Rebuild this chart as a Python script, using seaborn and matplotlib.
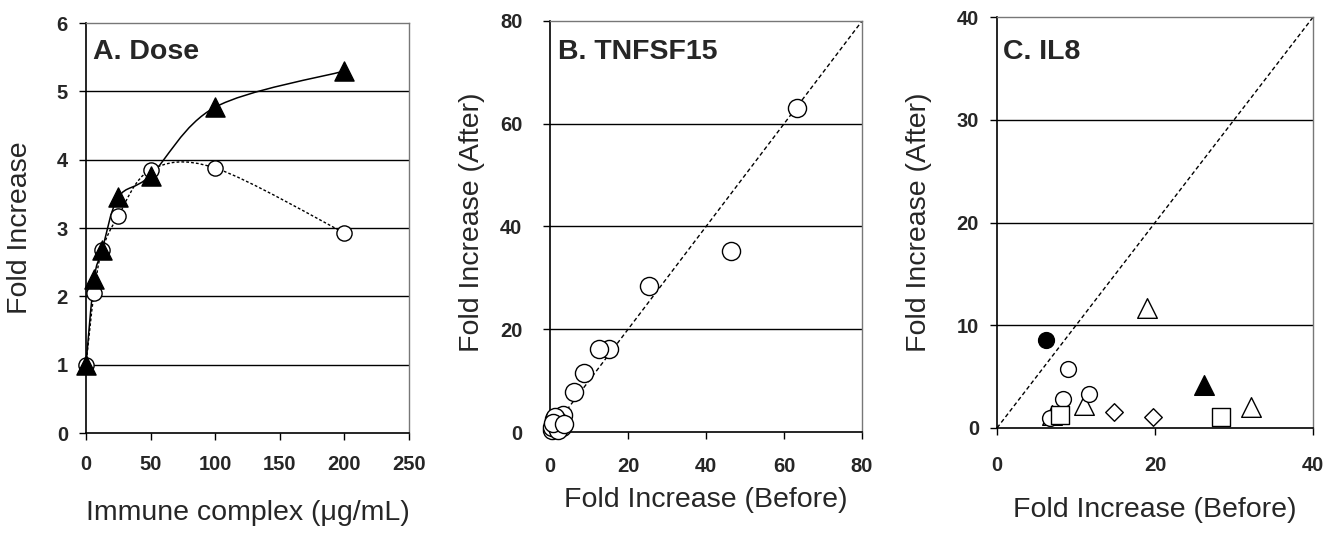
import numpy as np
import pandas as pd
import seaborn as sns
import matplotlib
matplotlib.use('Agg')
import matplotlib.pyplot as plt
from matplotlib.path import Path
from matplotlib.patches import PathPatch

# panel A - dose response
dose = [0, 6.25, 12.5, 25, 50, 100, 200]
dose_circle = [1.0, 2.05, 2.68, 3.18, 3.85, 3.88, 2.93]
dose_triangle = [1.0, 2.25, 2.68, 3.45, 3.77, 4.77, 5.30]

# panel B - TNFSF15 before/after
tnf_before = [63.4, 46.4, 25.4, 15.1, 12.6, 8.8, 6.2, 3.4, 0.9, 1.7, 1.3, 2.6,
              0.4, 2.1, 3.0, 0.5, 1.2, 2.0, 0.7, 3.5]
tnf_after = [63.0, 35.3, 28.4, 16.2, 16.1, 11.4, 7.7, 3.4, 2.6, 1.6, 0.6, 1.3,
             0.3, 2.1, 1.0, 1.0, 2.9, 0.4, 1.8, 1.6]

# panel C - IL8 before/after, marker shape and fill per point
il8_before = [6.2, 9.0, 8.3, 11.6, 6.7, 6.9, 8.0, 11.0, 14.8, 19.8, 19.0, 26.2, 28.4, 32.2]
il8_after = [8.6, 5.7, 2.85, 3.3, 0.97, 1.3, 1.3, 2.2, 1.6, 1.1, 11.65, 4.2, 1.1, 2.0]
il8_shape = ['o', 'o', 'o', 'o', 'o', '^', 's', '^', 'D', 'D', '^', '^', 's', '^']
il8_filled = [True, False, False, False, False, False, False, False, False, False, False, True, False, False]

sns.set_style('white')
plt.rcParams['font.family'] = ['Liberation Sans', 'DejaVu Sans']


def smooth_path(x, y, t=1/6):
    # excel style smoothed line as bezier segments through the data points
    pts = np.column_stack([x, y]).astype(float)
    verts = [pts[0]]
    codes = [Path.MOVETO]
    n = len(pts)
    for i in range(n - 1):
        p0 = pts[i - 1] if i > 0 else pts[i]
        p1 = pts[i]
        p2 = pts[i + 1]
        p3 = pts[i + 2] if i + 2 < n else pts[i + 1]
        verts += [p1 + (p2 - p0) * t, p2 - (p3 - p1) * t, p2]
        codes += [Path.CURVE4] * 3
    return Path(verts, codes)


def style_axes(ax, xlim, ylim, xticks, yticks, xpad, ypad):
    ax.set_xlim(xlim)
    ax.set_ylim(ylim)
    ax.set_xticks(xticks)
    ax.set_yticks(yticks)
    for y in yticks[1:-1]:
        ax.axhline(y, color='black', lw=1, zorder=1)
    for s in ['left', 'bottom']:
        ax.spines[s].set_color('black')
        ax.spines[s].set_linewidth(1.2)
    for s in ['top', 'right']:
        ax.spines[s].set_color('#777777')
        ax.spines[s].set_linewidth(1)
    ax.tick_params(axis='x', direction='out', length=5, width=1, color='black',
                   labelsize=14.5, pad=xpad, bottom=True)
    ax.tick_params(axis='y', direction='out', length=5, width=1, color='black',
                   labelsize=14.5, pad=ypad, left=True)
    for lab in ax.get_xticklabels() + ax.get_yticklabels():
        lab.set_fontweight('bold')


fig = plt.figure(figsize=(13.39, 5.38), dpi=100)
axA = fig.add_axes([0.0642, 0.195, 0.2412, 0.762])
axB = fig.add_axes([0.4108, 0.197, 0.2330, 0.764])
axC = fig.add_axes([0.7446, 0.2045, 0.2360, 0.7635])

# ---- A
axA.add_patch(PathPatch(smooth_path(dose, dose_circle), fill=False, color='black',
                        lw=1, ls=(0, (2, 1.5)), zorder=2))
axA.add_patch(PathPatch(smooth_path(dose, dose_triangle), fill=False, color='black',
                        lw=1.1, zorder=2))
sns.scatterplot(x=dose, y=dose_circle, ax=axA, marker='o', s=120, facecolor='white',
                edgecolor='black', linewidth=1, zorder=3, clip_on=False)
sns.scatterplot(x=dose, y=dose_triangle, ax=axA, marker='^', s=190, color='black',
                edgecolor='black', linewidth=1, zorder=4, clip_on=False)
style_axes(axA, (0, 250), (0, 6), [0, 50, 100, 150, 200, 250], [0, 1, 2, 3, 4, 5, 6], 11, 8)
axA.set_xlabel('Immune complex (\u03bcg/mL)', fontsize=20.5)
axA.set_ylabel('Fold Increase', fontsize=20.5)
axA.xaxis.set_label_coords(0.5, -0.163)
axA.yaxis.set_label_coords(-0.165, 0.5)
axA.text(0.022, 0.93, 'A. Dose', transform=axA.transAxes, fontsize=20.5,
         fontweight='bold', va='center', ha='left')

# ---- B
axB.plot([0, 80], [0, 80], color='black', lw=1, ls=(0, (3, 2)), zorder=2)
sns.scatterplot(x=tnf_before, y=tnf_after, ax=axB, marker='o', s=170, facecolor='white',
                edgecolor='black', linewidth=1, zorder=3, clip_on=False)
style_axes(axB, (0, 80), (0, 80), [0, 20, 40, 60, 80], [0, 20, 40, 60, 80], 13, 15)
axB.set_xlabel('Fold Increase (Before)', fontsize=20.5)
axB.set_ylabel('Fold Increase (After)', fontsize=20.5)
axB.xaxis.set_label_coords(0.5, -0.134)
axB.yaxis.set_label_coords(-0.208, 0.51)
axB.text(0.026, 0.925, 'B. TNFSF15', transform=axB.transAxes, fontsize=20.5,
         fontweight='bold', va='center', ha='left')

# ---- C
axC.plot([0, 40], [0, 40], color='black', lw=1, ls=(0, (3, 2)), zorder=2)
dfC = pd.DataFrame({'before': il8_before, 'after': il8_after,
                    'shape': il8_shape, 'filled': il8_filled})
sizes = {'o': 130, '^': 200, 's': 150, 'D': 80}
for (shape, filled), grp in dfC.groupby(['shape', 'filled']):
    sns.scatterplot(data=grp, x='before', y='after', ax=axC, marker=shape,
                    s=sizes[shape], facecolor='black' if filled else 'white',
                    edgecolor='black', linewidth=1, zorder=3, clip_on=False)
style_axes(axC, (0, 40), (0, 40), [0, 20, 40], [0, 10, 20, 30, 40], 15, 8)
axC.set_xlabel('Fold Increase (Before)', fontsize=20.5)
axC.set_ylabel('Fold Increase (After)', fontsize=20.5)
axC.xaxis.set_label_coords(0.5, -0.168)
axC.yaxis.set_label_coords(-0.206, 0.5)
axC.text(0.02, 0.915, 'C. IL8', transform=axC.transAxes, fontsize=20.5,
         fontweight='bold', va='center', ha='left')

fig.savefig('out.png', dpi=100)
